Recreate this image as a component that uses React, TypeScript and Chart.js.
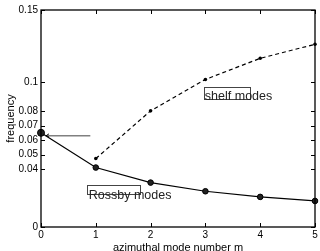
import React, { useEffect, useRef } from "react";
import { Chart, registerables } from "chart.js";

Chart.register(...registerables);

// ---- data ----
const modeNumbers = [0, 1, 2, 3, 4, 5];
const rossbyFreq = [0.0651, 0.0411, 0.0307, 0.0247, 0.0208, 0.018];
const shelfModeNumbers = [1, 2, 3, 4, 5];
const shelfFreq = [0.0473, 0.0803, 0.102, 0.1166, 0.1263];
const xTicks = [0, 1, 2, 3, 4, 5];
const yTicks = [0, 0.04, 0.05, 0.06, 0.07, 0.08, 0.1, 0.15];
const xLabel = "azimuthal mode number m";
const yLabel = "frequency";
const shelfLabel = "shelf modes";
const rossbyLabel = "Rossby modes";

// annotation placement in data coordinates
const labelBoxes = [
  { text: shelfLabel, x0: 2.976, y0: 0.0967, x1: 3.82, y1: 0.0887, tx: 2.99, ty: 0.0877 },
  { text: rossbyLabel, x0: 0.84, y0: 0.02935, x1: 1.815, y1: 0.0233, tx: 0.871, ty: 0.01966 },
];
const arrowFrom = { x: 0.9, y: 0.063 };
const arrowTo = { x: 0.09, y: 0.063 };

const FONT = "'Liberation Sans', Arial, Helvetica, sans-serif";

const framePlugin = {
  id: "framePlugin",
  afterDatasetsDraw(chart: any) {
    const { ctx, chartArea, scales } = chart;
    const { left, right, top, bottom } = chartArea;
    const xs = scales.x;
    const ys = scales.y;
    ctx.save();
    // annotations
    ctx.font = `12.5px ${FONT}`;
    ctx.textBaseline = "alphabetic";
    ctx.textAlign = "left";
    for (const b of labelBoxes) {
      const bx0 = xs.getPixelForValue(b.x0);
      const by0 = ys.getPixelForValue(b.y0);
      const bx1 = xs.getPixelForValue(b.x1);
      const by1 = ys.getPixelForValue(b.y1);
      ctx.strokeStyle = "#444";
      ctx.lineWidth = 1;
      ctx.strokeRect(Math.round(bx0) + 0.5, Math.round(by0) + 0.5, Math.round(bx1 - bx0), Math.round(by1 - by0));
      ctx.fillStyle = "#222";
      ctx.fillText(b.text, xs.getPixelForValue(b.tx), ys.getPixelForValue(b.ty));
    }
    // arrow
    const ax0 = xs.getPixelForValue(arrowFrom.x);
    const ax1 = xs.getPixelForValue(arrowTo.x);
    const ay = ys.getPixelForValue(arrowFrom.y);
    ctx.strokeStyle = "#808080";
    ctx.lineWidth = 1.5;
    ctx.beginPath();
    ctx.moveTo(ax0, ay);
    ctx.lineTo(ax1, ay);
    ctx.stroke();
    ctx.strokeStyle = "#000";
    ctx.lineWidth = 1;
    ctx.beginPath();
    ctx.moveTo(ax1 + 3, ay - 2);
    ctx.lineTo(ax1, ay);
    ctx.lineTo(ax1 + 3, ay + 1);
    ctx.stroke();

    // frame
    ctx.strokeStyle = "#000";
    ctx.lineWidth = 1.3;
    ctx.strokeRect(left, top, right - left, bottom - top);
    // inward ticks
    const tl = 4;
    ctx.lineWidth = 1;
    ctx.beginPath();
    for (const v of xTicks) {
      const px = Math.round(xs.getPixelForValue(v)) + 0.5;
      ctx.moveTo(px, bottom);
      ctx.lineTo(px, bottom - tl);
      ctx.moveTo(px, top);
      ctx.lineTo(px, top + tl);
    }
    for (const v of yTicks) {
      const py = Math.round(ys.getPixelForValue(v)) + 0.5;
      ctx.moveTo(left, py);
      ctx.lineTo(left + tl, py);
      ctx.moveTo(right, py);
      ctx.lineTo(right - tl, py);
    }
    ctx.stroke();
    ctx.restore();
  },
};

export default function App() {
  const ref = useRef<HTMLCanvasElement | null>(null);
  useEffect(() => {
    document.body.style.margin = "0";
    const canvas = ref.current;
    if (!canvas) return;
    const chart = new Chart(canvas, {
      type: "line",
      data: {
        datasets: [
          {
            label: rossbyLabel,
            data: modeNumbers.map((m, i) => ({ x: m, y: rossbyFreq[i] })),
            borderColor: "#000",
            borderWidth: 1.2,
            backgroundColor: "#222",
            pointBorderColor: "#000",
            pointBorderWidth: 1,
            pointRadius: [3.5, 2.8, 2.8, 2.8, 2.8, 2.8],
            tension: 0,
            clip: false,
          } as any,
          {
            label: shelfLabel,
            data: shelfModeNumbers.map((m, i) => ({ x: m, y: shelfFreq[i] })),
            borderColor: "#000",
            borderWidth: 1.2,
            borderDash: [4, 3],
            backgroundColor: "#000",
            pointBorderWidth: 0,
            pointRadius: 1.8,
            tension: 0,
            clip: false,
          } as any,
        ],
      },
      options: {
        responsive: false,
        animation: false,
        devicePixelRatio: 1,
        layout: { padding: { top: 10, right: 3, left: 0, bottom: 0 } },
        plugins: { legend: { display: false }, tooltip: { enabled: false } },
        scales: {
          x: {
            type: "linear",
            min: 0,
            max: 5,
            afterBuildTicks: (s: any) => {
              s.ticks = xTicks.map((v) => ({ value: v }));
            },
            afterFit: (s: any) => {
              s.height = 24;
            },
            grid: { display: false, drawTicks: false },
            border: { display: false },
            ticks: {
              padding: 2,
              color: "#000",
              font: { family: FONT, size: 10 },
              maxRotation: 0,
              autoSkip: false,
              callback: (v: any) => String(v),
            },
            title: {
              display: true,
              text: xLabel,
              color: "#000",
              font: { family: FONT, size: 11, lineHeight: 0.6 },
              padding: 0,
            },
          },
          y: {
            type: "linear",
            min: 0,
            max: 0.15,
            afterBuildTicks: (s: any) => {
              s.ticks = yTicks.map((v) => ({ value: v }));
            },
            afterFit: (s: any) => {
              s.width = 41;
            },
            grid: { display: false, drawTicks: false },
            border: { display: false },
            ticks: {
              padding: 3,
              color: "#000",
              font: { family: FONT, size: 10 },
              autoSkip: false,
              callback: (v: any) => String(v),
            },
            title: {
              display: true,
              text: yLabel,
              color: "#000",
              font: { family: FONT, size: 11 },
              padding: { top: 4, bottom: 0 },
            },
          },
        },
      },
      plugins: [framePlugin],
    });
    return () => chart.destroy();
  }, []);
  return <canvas ref={ref} width={320} height={251} style={{ display: "block", width: 320, height: 251 }} />;
}
